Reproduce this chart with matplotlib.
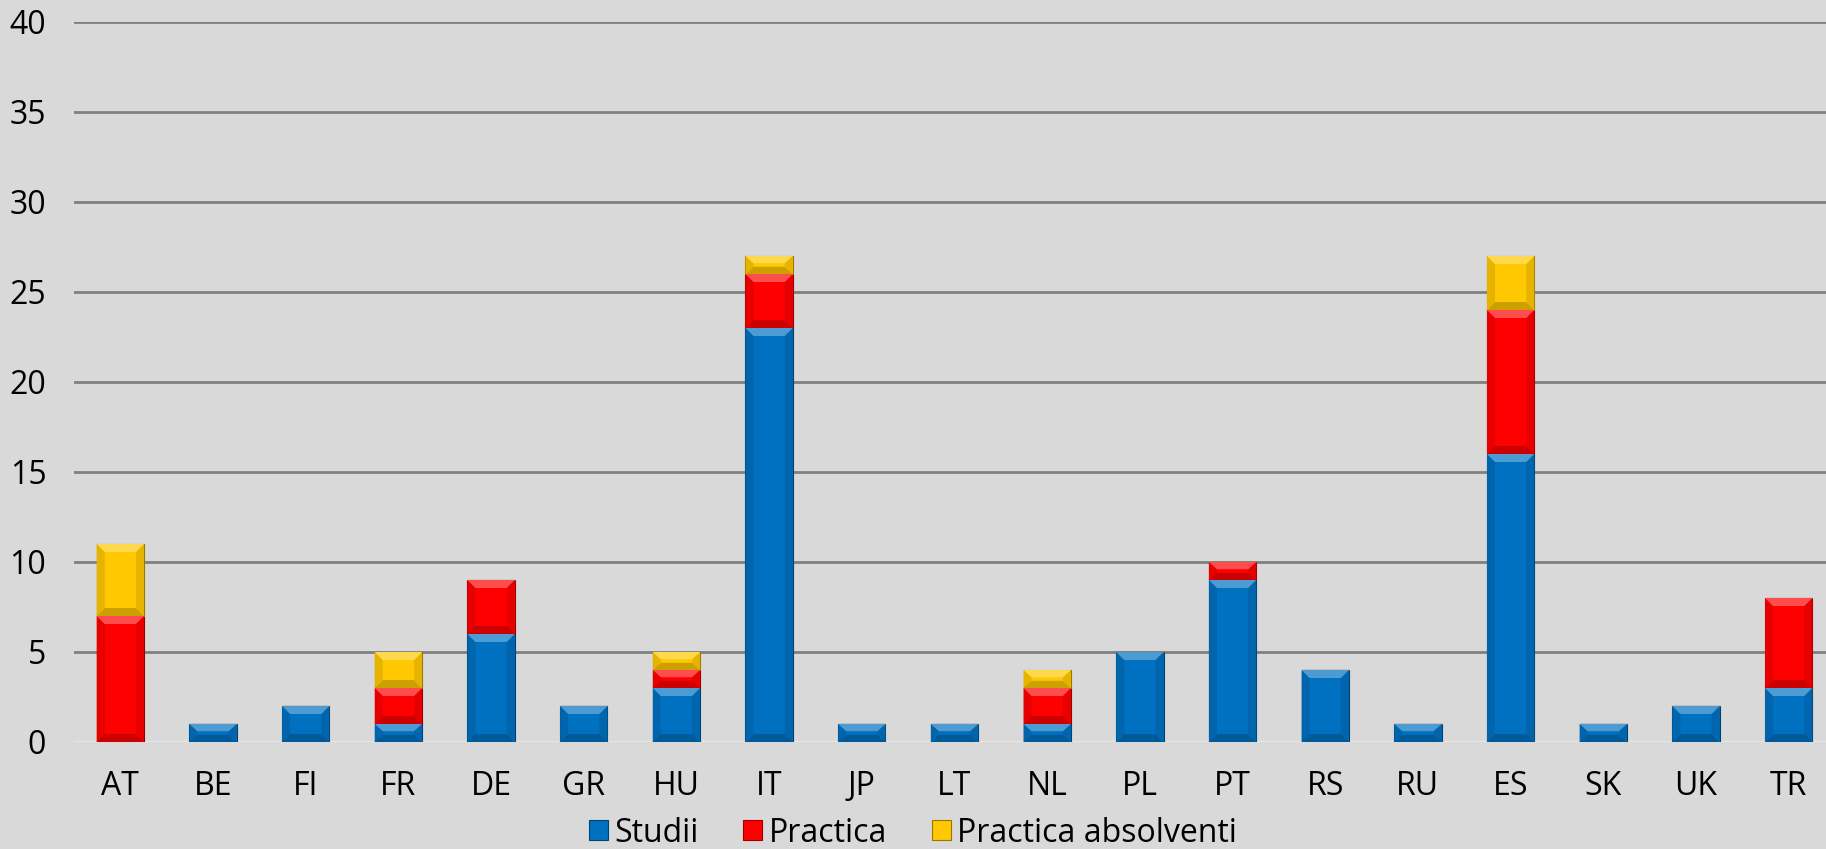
import numpy as np
import matplotlib.pyplot as plt
from matplotlib.patches import Polygon
import matplotlib.colors as mcolors

countries = ['AT', 'BE', 'FI', 'FR', 'DE', 'GR', 'HU', 'IT', 'JP', 'LT',
             'NL', 'PL', 'PT', 'RS', 'RU', 'ES', 'SK', 'UK', 'TR']
studii = [0, 1, 2, 1, 6, 2, 3, 23, 1, 1, 1, 5, 9, 4, 1, 16, 1, 2, 3]
practica = [7, 0, 0, 2, 3, 0, 1, 3, 0, 0, 2, 0, 1, 0, 0, 8, 0, 0, 5]
absolventi = [4, 0, 0, 2, 0, 0, 1, 1, 0, 0, 1, 0, 0, 0, 0, 3, 0, 0, 0]

series = [('Studii', studii, '#0070C0'),
          ('Practica', practica, '#FF0000'),
          ('Practica absolventi', absolventi, '#FFC800')]

plt.rcParams['font.family'] = ['Liberation Sans Narrow', 'Open Sans', 'DejaVu Sans']

fig = plt.figure(figsize=(18.26, 8.49), dpi=100)
fig.patch.set_facecolor('#D9D9D9')
ax = fig.add_axes([74 / 1826, 1 - 742 / 849, 1761 / 1826, 720 / 849])
ax.set_facecolor('#D9D9D9')

x = np.arange(len(countries))
bottom = np.zeros(len(countries))
px_x = 1 / 92.7
px_y = 5 / 90.0


def bevel(bar, color):
    x0, y0 = bar.get_x(), bar.get_y()
    w, h = bar.get_width(), bar.get_height()
    if h <= 0:
        return
    bx = 8 * px_x
    by = min(8 * px_y, h / 2.5)
    rgb = np.array(mcolors.to_rgb(color))
    light = tuple(rgb + (1 - rgb) * 0.3)
    dark = tuple(rgb * 0.8)
    side = tuple(rgb * 0.9)
    top = [(x0, y0 + h), (x0 + w, y0 + h), (x0 + w - bx, y0 + h - by), (x0 + bx, y0 + h - by)]
    bot = [(x0, y0), (x0 + w, y0), (x0 + w - bx, y0 + by), (x0 + bx, y0 + by)]
    right = [(x0 + w, y0), (x0 + w, y0 + h), (x0 + w - bx, y0 + h - by), (x0 + w - bx, y0 + by)]
    left = [(x0, y0), (x0, y0 + h), (x0 + bx, y0 + h - by), (x0 + bx, y0 + by)]
    ax.add_patch(Polygon(bot, closed=True, facecolor=dark, edgecolor='none', zorder=3))
    ax.add_patch(Polygon(right, closed=True, facecolor=side, edgecolor='none', zorder=3))
    ax.add_patch(Polygon(left, closed=True, facecolor=side, edgecolor='none', zorder=3))
    ax.add_patch(Polygon(top, closed=True, facecolor=light, edgecolor='none', zorder=3))


for name, vals, col in series:
    bars = ax.bar(x, vals, 0.51, bottom=bottom, color=col, label=name,
                  edgecolor=tuple(np.array(mcolors.to_rgb(col)) * 0.6), linewidth=0.8, zorder=2)
    for b in bars:
        bevel(b, col)
    bottom += np.array(vals)

ax.set_xlim(-0.5, len(countries) - 0.5)
ax.set_ylim(0, 40)
ax.set_yticks(range(0, 41, 5))
ax.yaxis.grid(True, color='#808080', linewidth=2)
ax.set_axisbelow(True)
ax.axhline(0, color='#F2F2F2', linewidth=2, zorder=1)
for s in ax.spines.values():
    s.set_visible(False)
ax.tick_params(length=0, labelsize=23, colors='black')
ax.tick_params(axis='y', pad=20)
ax.tick_params(axis='x', pad=20)
ax.set_xticks(x)
ax.set_xticklabels(countries)

leg = fig.legend(loc='center', bbox_to_anchor=(0.5, 1 - 833 / 849), ncol=3, frameon=False,
                 fontsize=23, handlelength=0.6, handleheight=0.6, handletextpad=0.2,
                 columnspacing=1.4, borderpad=0)

fig.savefig('out.png', dpi=100, facecolor=fig.get_facecolor())
